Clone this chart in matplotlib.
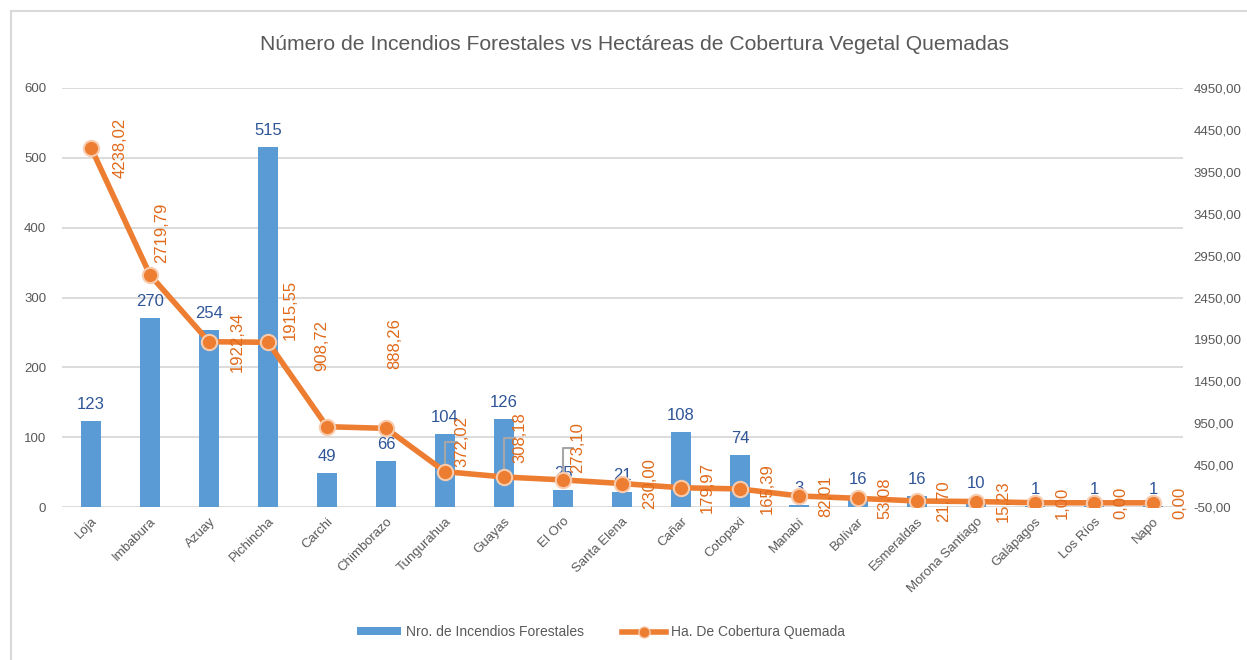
import matplotlib
matplotlib.use("Agg")
import matplotlib.pyplot as plt
from matplotlib.lines import Line2D
from matplotlib.patches import Patch

provincias = ["Loja", "Imbabura", "Azuay", "Pichincha", "Carchi", "Chimborazo",
              "Tungurahua", "Guayas", "El Oro", "Santa Elena", "Cañar", "Cotopaxi",
              "Manabí", "Bolívar", "Esmeraldas", "Morona Santiago", "Galápagos",
              "Los Ríos", "Napo"]
incendios = [123, 270, 254, 515, 49, 66, 104, 126, 25, 21, 108, 74, 3, 16, 16, 10, 1, 1, 1]
hectareas = [4238.02, 2719.79, 1922.34, 1915.55, 908.72, 888.26, 372.02, 308.18,
             273.10, 230.00, 179.97, 165.39, 82.01, 53.08, 21.70, 15.23, 1.00, 0.00, 0.00]
left_ticks = [0, 100, 200, 300, 400, 500, 600]
right_ticks = [-50, 450, 950, 1450, 1950, 2450, 2950, 3450, 3950, 4450, 4950]

# label offsets in pixels (layout only)
lab_dx = [29, 12, 28, 22, -5, 9, 17, 16, 15, 28, 26, 27, 27, 27, 27, 27, 27, 27, 27]
lab_dy = [0, 42, 0, 32, 81, 85, 30, 39, 32, 0, 0, 0, 0, 0, 0, 0, 0, 0, 0]
leader = [False] * 6 + [True, True, True] + [False] * 10

plt.rcParams['font.family'] = ['Liberation Sans', 'DejaVu Sans']

fig = plt.figure(figsize=(12.47, 6.6), dpi=100)
ax = fig.add_axes([61.5 / 1247, 1 - 507 / 660, 1121 / 1247, 419 / 660])
ax2 = ax.twinx()

BLUE = "#5B9BD5"
ORANGE = "#ED7D31"
GRID = "#D9D9D9"
TXT = "#595959"

x = list(range(len(provincias)))
ax.bar(x, incendios, width=0.33, color=BLUE, zorder=2)
ax.set_xlim(-0.5, len(provincias) - 0.5)
ax.set_ylim(0, 600)
ax.set_yticks(left_ticks)
ax.yaxis.grid(True, color=GRID, linewidth=1.3, zorder=0)
ax.set_axisbelow(True)
for s in ax.spines.values():
    s.set_visible(False)
for s in ax2.spines.values():
    s.set_visible(False)
ax.tick_params(axis='both', length=0, colors=TXT, labelsize=9.5)
ax.tick_params(axis='y', pad=11)
ax.set_xticks(x)
ax.set_xticklabels(provincias, rotation=45, ha='right', rotation_mode='anchor')
ax.tick_params(axis='x', pad=6)

for xi, v in zip(x, incendios):
    ax.annotate(str(v), (xi, v), xytext=(0, 9), textcoords='offset pixels',
                ha='center', va='bottom', color="#2F5597", fontsize=12)

ax2.set_ylim(-50, 4950)
ax2.set_yticks(right_ticks)
ax2.set_yticklabels([f"{t:.2f}".replace('.', ',') for t in right_ticks])
ax2.tick_params(axis='y', length=0, colors=TXT, labelsize=9.5, pad=8)
ax2.plot(x, hectareas, color=ORANGE, linewidth=4, marker='o', markersize=11,
         markerfacecolor=ORANGE, markeredgecolor="#F8CBAD", markeredgewidth=1.5,
         zorder=4, solid_capstyle='round')

for xi, v, dx, dy, ld in zip(x, hectareas, lab_dx, lab_dy, leader):
    ax2.annotate(f"{v:.2f}".replace('.', ','), (xi, v), xytext=(dx, dy),
                 textcoords='offset pixels', ha='center', va='center',
                 rotation=90, color="#E06A1B", fontsize=12, zorder=5)
    if ld:
        ax2.annotate("", (xi, v), xytext=(dx - 5, dy), textcoords='offset pixels',
                     arrowprops=dict(arrowstyle='-', color="#A6A6A6", lw=1.5,
                                     shrinkA=0, shrinkB=0,
                                     connectionstyle="angle,angleA=0,angleB=90,rad=0"),
                     zorder=3)

fig.text(635 / 1247, 1 - 44 / 660, "Número de Incendios Forestales vs Hectáreas de Cobertura Vegetal Quemadas",
         ha='center', va='center', fontsize=15.2, color=TXT)

handles = [Patch(facecolor=BLUE, edgecolor='none'),
           Line2D([0], [0], color=ORANGE, linewidth=4, marker='o', markersize=8,
                  markerfacecolor=ORANGE, markeredgecolor="#F8CBAD")]
labels = ["Nro. de Incendios Forestales", "Ha. De Cobertura Quemada"]
leg = fig.legend(handles, labels, loc='center', bbox_to_anchor=(601 / 1247, 1 - 632 / 660),
                 ncol=2, frameon=False, fontsize=10, handlelength=3.2, handleheight=0.45,
                 columnspacing=2.7, handletextpad=0.36, labelcolor=TXT)

fig.add_artist(Line2D([11 / 1247, 1], [1 - 11 / 660, 1 - 11 / 660], color=GRID, linewidth=1.5,
                      transform=fig.transFigure))
fig.add_artist(Line2D([11 / 1247, 11 / 1247], [0, 1 - 11 / 660], color=GRID, linewidth=1.5,
                      transform=fig.transFigure))

fig.savefig("out.png", dpi=100)
